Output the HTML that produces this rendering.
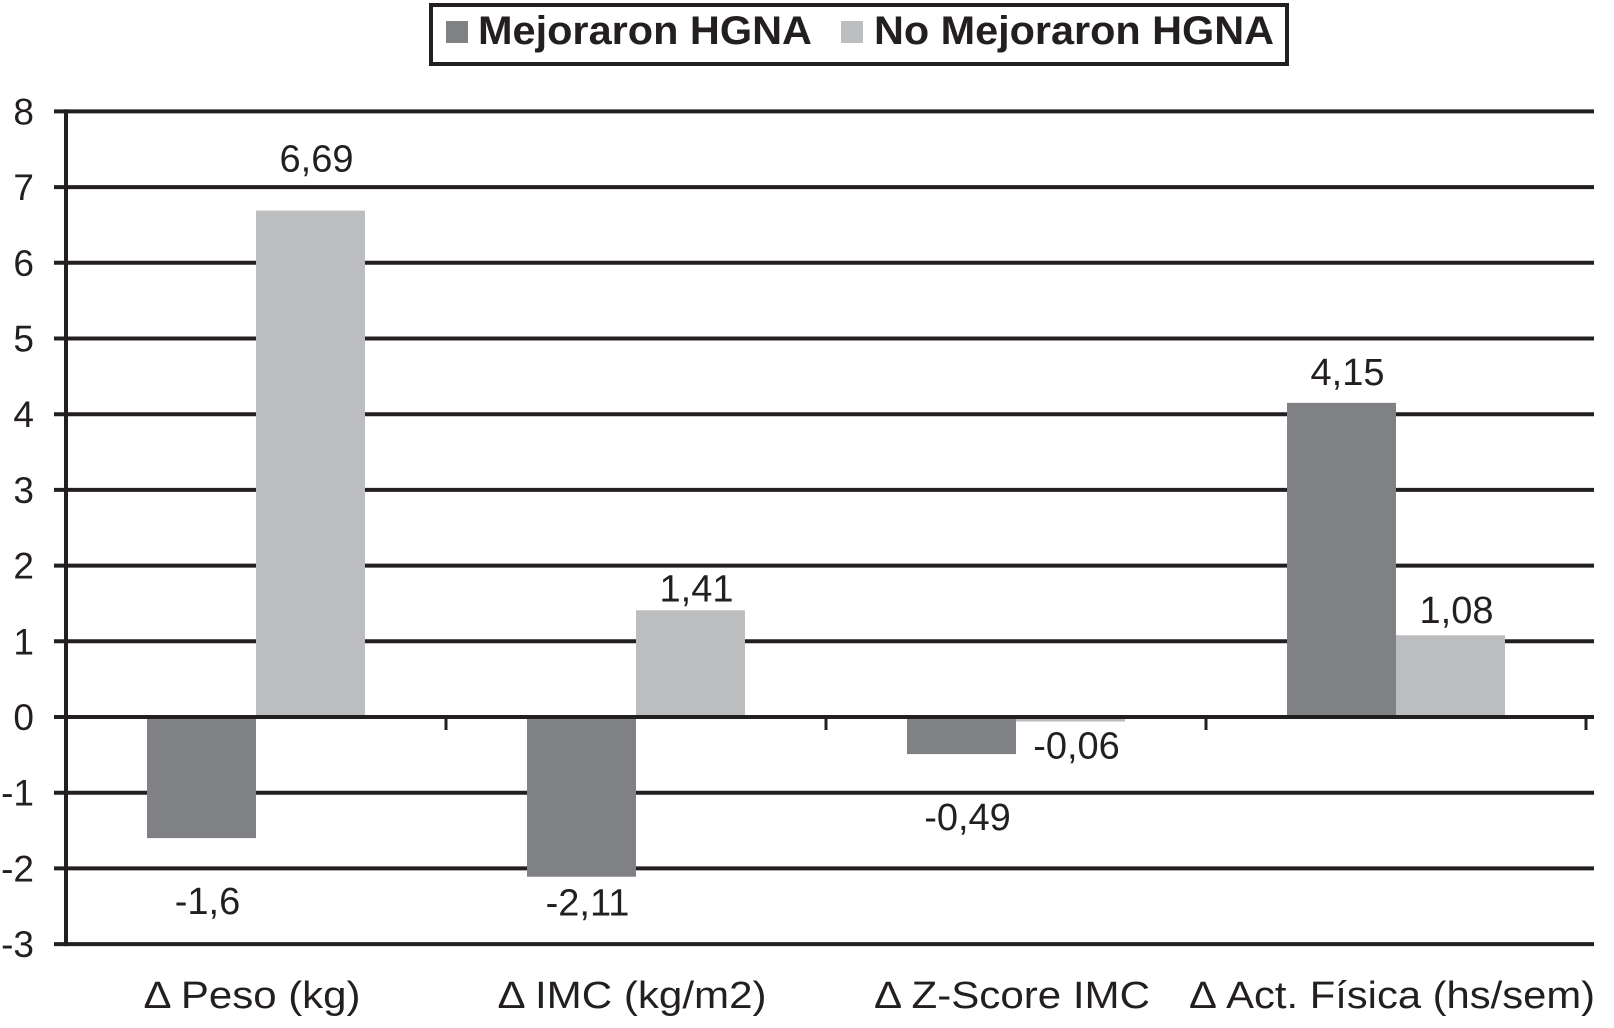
<!DOCTYPE html>
<html><head><meta charset="utf-8"><style>
html,body{margin:0;padding:0;background:#fff;}
svg{display:block;font-family:"Liberation Sans",Arial,sans-serif;}
</style></head><body>
<svg id="chart" width="1614" height="1028" viewBox="0 0 1614 1028" xmlns="http://www.w3.org/2000/svg">
<g>
<rect x="431" y="5" width="856" height="59" fill="#fff" stroke="#231f20" stroke-width="4"/>
<g>
<rect x="446" y="21" width="22" height="22" fill="#808184"/>
<text x="478" y="44" font-size="40" font-weight="bold" fill="#231f20" textLength="334" lengthAdjust="spacingAndGlyphs">Mejoraron HGNA</text>
</g>
<g>
<rect x="841" y="21" width="22" height="22" fill="#bcbdbf"/>
<text x="874" y="44" font-size="40" font-weight="bold" fill="#231f20" textLength="400" lengthAdjust="spacingAndGlyphs">No Mejoraron HGNA</text>
</g>
</g>
<g id="grid"></g>
<g id="bars"></g>
<g id="axes"></g>
<g id="labels"></g>
</svg>
<script>
const categories = ["Δ Peso (kg)", "Δ IMC (kg/m2)", "Δ Z-Score IMC", "Δ Act. Física (hs/sem)"];
const mejoraron = [-1.6, -2.11, -0.49, 4.15];
const noMejoraron = [6.69, 1.41, -0.06, 1.08];
const mejoraronLabels = ["-1,6", "-2,11", "-0,49", "4,15"];
const noMejoraronLabels = ["6,69", "1,41", "-0,06", "1,08"];
const yTicks = [8, 7, 6, 5, 4, 3, 2, 1, 0, -1, -2, -3];

const NS = "http://www.w3.org/2000/svg";
const X0 = 66, X1 = 1586, Y0 = 717, UNIT = 75.7;
const yMin = -3, yMax = 8;
const catLabelW = [217, 269, 276, 406];
const mejDy = [0, -37, 0, 0];
const noDy = [-21, 9, -7, 6];
function y(v){ return Y0 - v * UNIT; }
const catW = (X1 - X0) / categories.length;
function catX(i){ return X0 + i * catW; }
const barW = 109;
function mk(tag, attrs, parent){
  const e = document.createElementNS(NS, tag);
  for (const k in attrs) e.setAttribute(k, attrs[k]);
  parent.appendChild(e);
  return e;
}
const grid = document.getElementById('grid');
const bars = document.getElementById('bars');
const axes = document.getElementById('axes');
const labels = document.getElementById('labels');
const ink = "#231f20";

yTicks.forEach(t => {
  if (t !== 0) {
    const l = mk('line', {x1: 54, x2: X1 + 8, y1: y(t), y2: y(t), stroke: ink, 'stroke-width': 4}, grid);
    
    
  }
  const tx = mk('text', {x: 34, y: y(t) + 13, 'font-size': 37, 'text-anchor': 'end', fill: ink}, axes);
  tx.textContent = String(t);
  
  
});

function drawBar(i, v, color, side, lbl, name, dy){
  const x = catX(i) + catW / 2 + (side === 0 ? -barW : 0);
  const top = Math.min(y(v), y(0)), h = Math.abs(y(v) - y(0));
  const r = mk('rect', {x: x, y: top, width: barW, height: h, fill: color}, bars);
  
  
  let ly;
  if (v >= 0) ly = y(v) - 18;
  else ly = y(v) + (Math.abs(v) < 0.3 ? 44 : 76);
  const t = mk('text', {x: x + barW / 2 + 6, y: ly + dy, 'font-size': 38, 'text-anchor': 'middle', fill: ink}, labels);
  t.textContent = lbl;
  
  
}
categories.forEach((c, i) => {
  drawBar(i, mejoraron[i], "#808184", 0, mejoraronLabels[i], 'mejoraron', mejDy[i]);
  drawBar(i, noMejoraron[i], "#bcbdbf", 1, noMejoraronLabels[i], 'no-mejoraron', noDy[i]);
  const ct = mk('text', {x: catX(i) + catW / 2 - 4, y: 1008, 'font-size': 38, 'text-anchor': 'middle', fill: ink, textLength: catLabelW[i], lengthAdjust: 'spacingAndGlyphs'}, labels);
  ct.textContent = c;
  
  
  const tk = mk('line', {x1: catX(i + 1), x2: catX(i + 1), y1: Y0, y2: Y0 + 13, stroke: ink, 'stroke-width': 3}, axes);
  
  
});
const zl = mk('line', {x1: 54, x2: X1 + 8, y1: Y0, y2: Y0, stroke: ink, 'stroke-width': 4}, axes);


const ya = mk('line', {x1: X0, x2: X0, y1: y(yMax) - 2, y2: y(yMin) + 2, stroke: ink, 'stroke-width': 4}, axes);


</script>
</body></html>
